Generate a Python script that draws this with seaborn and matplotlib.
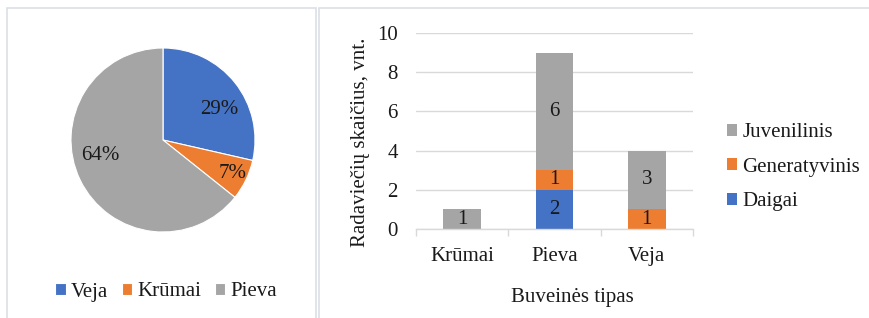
import numpy as np
import matplotlib.pyplot as plt
import seaborn as sns
from matplotlib.patches import Rectangle

# data
habitats = ["Krūmai", "Pieva", "Veja"]
daigai = [0, 2, 0]
generatyvinis = [0, 1, 1]
juvenilinis = [1, 6, 3]

pie_labels = ["Veja", "Krūmai", "Pieva"]
pie_counts = [4, 1, 9]

BLUE = "#4472C4"
ORANGE = "#ED7D31"
GRAY = "#A5A5A5"
GRID = "#D9D9D9"
BORDER = "#DCDFE4"
FS = 15

sns.set_theme(style="white")
plt.rcParams["font.family"] = ["Liberation Serif", "DejaVu Serif"]
plt.rcParams["text.color"] = "#1a1a1a"

W, H = 870, 318
fig = plt.figure(figsize=(W / 100, H / 100), dpi=100)

# panel frames
fig.patches.append(Rectangle((7 / W, -0.1), (316 - 7) / W, 1.1 - 8 / H,
                             transform=fig.transFigure, fill=False,
                             edgecolor=BORDER, lw=1.2))
fig.patches.append(Rectangle((319 / W, -0.1), 0.7, 1.1 - 8 / H,
                             transform=fig.transFigure, fill=False,
                             edgecolor=BORDER, lw=1.2))

# ---- pie ----
cx, cy, r = 163, 140, 92
ax_pie = fig.add_axes([(cx - r) / W, (H - cy - r) / H, 2 * r / W, 2 * r / H])
wedges, _, autotexts = ax_pie.pie(
    pie_counts, colors=[BLUE, ORANGE, GRAY], startangle=90, counterclock=False,
    autopct="%.0f%%", pctdistance=0.72,
    textprops=dict(fontsize=FS, color="#1a1a1a"),
    wedgeprops=dict(linewidth=0.8, edgecolor="white"))
# label placement a bit like Excel's best fit
dists = [0.70, 0.84, 0.70]
shifts = [-10, 0, -12]
for w, t, d, s in zip(wedges, autotexts, dists, shifts):
    ang = np.deg2rad((w.theta1 + w.theta2) / 2 + s)
    t.set_position((d * np.cos(ang), d * np.sin(ang)))
ax_pie.set_xlim(-1, 1)
ax_pie.set_ylim(-1, 1)
ax_pie.set_aspect("equal")
ax_pie.axis("off")

fig.legend(wedges, pie_labels, loc="center", bbox_to_anchor=(166 / W, 1 - 292 / H),
           ncol=3, frameon=False, fontsize=FS, handlelength=0.5, handleheight=0.5,
           handletextpad=0.25, columnspacing=0.65, borderpad=0)

# ---- stacked bars ----
x0, x1, ytop, ybot = 416, 693, 33, 229
ax = fig.add_axes([x0 / W, (H - ybot) / H, (x1 - x0) / W, (ybot - ytop) / H])
x = np.arange(len(habitats))
width = 0.41
bottom = np.zeros(len(habitats))
handles = {}
for name, vals, col in [("Daigai", daigai, BLUE),
                        ("Generatyvinis", generatyvinis, ORANGE),
                        ("Juvenilinis", juvenilinis, GRAY)]:
    vals = np.array(vals)
    bars = ax.bar(x, vals, width, bottom=bottom, color=col, linewidth=0, zorder=3)
    handles[name] = bars
    for xi, b, v in zip(x, bottom, vals):
        if v > 0:
            ax.text(xi, b + v / 2, f"{v}", ha="center", va="center",
                    fontsize=FS, color="#1a1a1a", zorder=4)
    bottom = bottom + vals

ax.set_ylim(0, 10)
ax.set_yticks(range(0, 11, 2))
ax.set_xlim(-0.5, 2.5)
ax.set_xticks(x)
ax.set_xticklabels(habitats)
ax.set_xticks([-0.5, 0.5, 1.5, 2.5], minor=True)
ax.tick_params(axis="x", which="major", length=0, pad=13, labelsize=FS, labelcolor="#1a1a1a")
ax.tick_params(axis="x", which="minor", length=5, width=1, color=GRID, direction="out", bottom=True)
ax.tick_params(axis="y", length=0, pad=13, labelsize=FS, labelcolor="#1a1a1a")
ax.yaxis.grid(True, color=GRID, lw=1, zorder=0)
ax.xaxis.grid(False)
for s in ["top", "right", "left"]:
    ax.spines[s].set_visible(False)
ax.spines["bottom"].set_color(GRID)
ax.spines["bottom"].set_linewidth(1)
ax.spines["bottom"].set_zorder(5)

ax.set_ylabel("Radaviečių skaičius, vnt.", fontsize=FS, color="#1a1a1a")
ax.yaxis.set_label_coords(-0.165, (ybot - 142) / (ybot - ytop))
ax.set_xlabel("Buveinės tipas", fontsize=FS, color="#1a1a1a")
ax.xaxis.set_label_coords((572 - x0) / (x1 - x0), -0.30)

order = ["Juvenilinis", "Generatyvinis", "Daigai"]
fig.legend([handles[k] for k in order], order, loc="upper left",
           bbox_to_anchor=(727 / W, 1 - 123 / H), frameon=False, fontsize=FS,
           handlelength=0.5, handleheight=0.5, handletextpad=0.25,
           labelspacing=0.75, borderpad=0, borderaxespad=0)

fig.savefig("out.png", dpi=100)
